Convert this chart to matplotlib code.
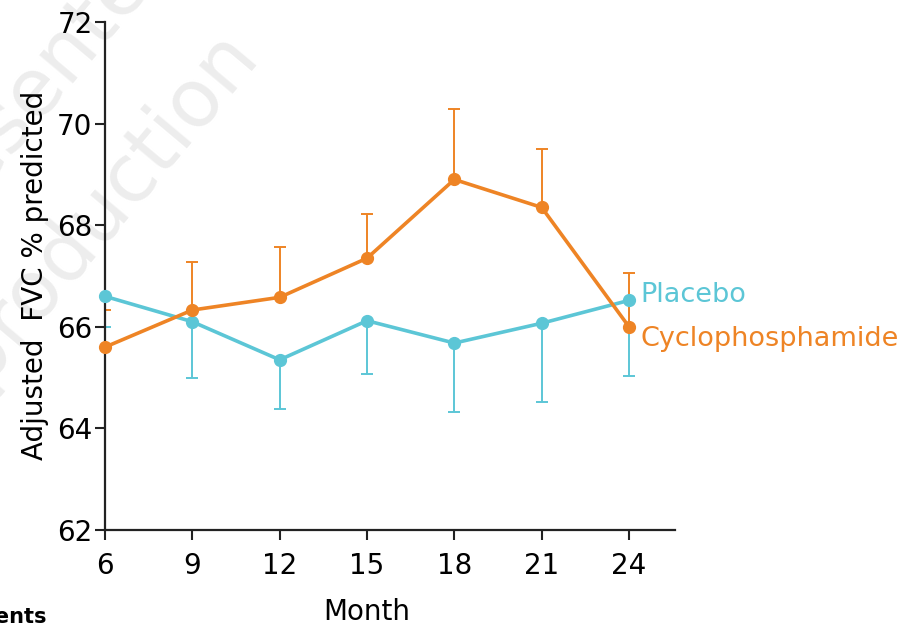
import matplotlib
matplotlib.use("Agg")
import matplotlib.pyplot as plt
import numpy as np

# Visit months and adjusted FVC % predicted
months = [6, 9, 12, 15, 18, 21, 24]
placebo = [66.6, 66.1, 65.35, 66.12, 65.68, 66.07, 66.52]
placebo_low = [66.0, 65.0, 64.38, 65.08, 64.32, 64.51, 65.03]
cyclo = [65.6, 66.33, 66.58, 67.35, 68.9, 68.35, 66.0]
cyclo_high = [66.33, 67.28, 67.57, 68.23, 70.28, 69.5, 67.05]

x_ticks = [6, 9, 12, 15, 18, 21, 24]
y_ticks = [62, 64, 66, 68, 70, 72]

BLUE = "#5cc6d6"
ORANGE = "#ee8425"
FS = 20

plt.rcParams["font.family"] = ["DejaVu Sans"]

W, H = 907, 626
fig = plt.figure(figsize=(W / 100, H / 100), dpi=100)

# faint diagonal watermark, behind everything
fig.text(38 / W, 1 - 82 / H, "Presented", rotation=50, fontsize=58, color="#ededed",
         ha="center", va="center", rotation_mode="anchor", zorder=-5)
fig.text(262 / W, 1 - 60 / H, "Not for reproduction", rotation=50, fontsize=58,
         color="#ededed", ha="right", va="baseline", rotation_mode="anchor", zorder=-5)

ax = fig.add_axes([105 / W, 1 - 530 / H, 570 / W, 508 / H])
ax.patch.set_alpha(0)

p = np.array(placebo)
pl = np.array(placebo_low)
c = np.array(cyclo)
ch = np.array(cyclo_high)

ax.errorbar(months, p, yerr=[p - pl, np.zeros_like(p)], fmt="none",
            ecolor=BLUE, elinewidth=1.4, capsize=4, capthick=1.4, zorder=2)
ax.errorbar(months, c, yerr=[np.zeros_like(c), ch - c], fmt="none",
            ecolor=ORANGE, elinewidth=1.4, capsize=4, capthick=1.4, zorder=2)
ax.plot(months, p, color=BLUE, lw=2.6, marker="o", ms=8.5, zorder=3, clip_on=False)
ax.plot(months, c, color=ORANGE, lw=2.6, marker="o", ms=8.5, zorder=4, clip_on=False)

ax.set_xlim(6, 6 + 570 / (524 / 18))
ax.set_ylim(62, 72)
ax.set_xticks(x_ticks)
ax.set_yticks(y_ticks)
ax.tick_params(labelsize=FS, length=7, width=1.5, color="#222222")
ax.tick_params(axis="x", pad=9)
ax.tick_params(axis="y", pad=2)
for s in ("top", "right"):
    ax.spines[s].set_visible(False)
for s in ("left", "bottom"):
    ax.spines[s].set_linewidth(1.6)
    ax.spines[s].set_color("#222222")

ax.set_xlabel("Month", fontsize=FS)
ax.xaxis.set_label_coords((367 - 105) / 570, -(612 - 530) / 508)
ax.xaxis.label.set_va("center")
ax.set_ylabel("Adjusted  FVC % predicted", fontsize=FS)
ax.yaxis.set_label_coords(-(105 - 35) / 570, (530 - 275) / 508)
ax.yaxis.label.set_va("center")

# series labels at the right end
ax.annotate("Placebo", xy=(24, placebo[-1]), xytext=(8, 4), textcoords="offset points",
            color=BLUE, fontsize=19.5, va="center", ha="left", annotation_clip=False)
ax.annotate("Cyclophosphamide", xy=(24, cyclo[-1]), xytext=(8, -9), textcoords="offset points",
            color=ORANGE, fontsize=19.5, va="center", ha="left", annotation_clip=False)

fig.text(47 / W, 1 - 617 / H, "Patients", fontsize=15, fontweight="bold",
         ha="right", va="center")

fig.savefig("out.png", dpi=100)
